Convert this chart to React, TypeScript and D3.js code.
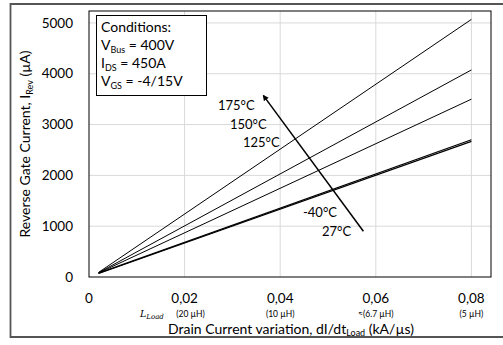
import React from 'react';
import * as d3 from 'd3';

// data
const xTicks = [0, 0.02, 0.04, 0.06, 0.08];
const xTickLabels = ['0', '0,02', '0,04', '0,06', '0,08'];
const inductLabels = ['', '(20 µH)', '(10 µH)', '≈(6.7 µH)', '(5 µH)'];
const yTicks = [0, 1000, 2000, 3000, 4000, 5000];

const xPoints = [0.002, 0.08];
const series = [
  { temp: '175°C', values: [90, 5070], width: 1 },
  { temp: '150°C', values: [85, 4075], width: 1 },
  { temp: '125°C', values: [80, 3500], width: 1 },
  { temp: '27°C', values: [75, 2700], width: 1.2 },
  { temp: '-40°C', values: [70, 2670], width: 1.2 },
];

// arrow from the low temperatures towards the high ones
const arrowFrom = { x: 0.0574, y: 900 };
const arrowTo = { x: 0.0365, y: 3570 };

const W = 503;
const H = 345;
const margin = { left: 89, top: 11, right: 12, bottom: 68 };
const font = 'Lato, "Open Sans", sans-serif';

const App = () => {
  const x = d3.scaleLinear().domain([0, 0.0841]).range([margin.left, W - margin.right]);
  const y = d3.scaleLinear().domain([0, 5235]).range([H - margin.bottom, margin.top]);

  const line = d3
    .line<number>()
    .x((_, i) => x(xPoints[i]))
    .y((d) => y(d));

  const x0 = x.range()[0];
  const x1 = x.range()[1];
  const y0 = y.range()[0];
  const y1 = y.range()[1];

  return (
    <svg width={W} height={H} style={{ position: 'absolute', left: 0, top: 0 }} fontFamily={font}>
      <defs>
        <marker id="head" viewBox="0 0 10 10" refX="8" refY="5" markerWidth="4" markerHeight="4" orient="auto">
          <path d="M0,0 L10,5 L0,10 z" fill="#000" />
        </marker>
      </defs>
      <rect x={0} y={0} width={W} height={H} fill="#fff" />
      {/* outer frame */}
      <path d={`M${W + 2},4 H10.5 V337 H${W + 2}`} fill="none" stroke="#555" strokeWidth={1.8} />

      {/* grid */}
      {xTicks.slice(1).map((t) => (
        <line key={'gx' + t} x1={x(t)} x2={x(t)} y1={y1} y2={y0} stroke="#d9d9d9" strokeWidth={1} />
      ))}
      {yTicks.slice(1).map((t) => (
        <line key={'gy' + t} x1={x0} x2={x1} y1={y(t)} y2={y(t)} stroke="#d9d9d9" strokeWidth={1} />
      ))}

      {/* series */}
      {series.map((s) => (
        <path key={s.temp} d={line(s.values) || ''} fill="none" stroke="#000" strokeWidth={s.width} />
      ))}

      <rect x={x0} y={y1} width={x1 - x0} height={y0 - y1} fill="none" stroke="#000" strokeWidth={1} />

      {/* arrow */}
      <line
        x1={x(arrowFrom.x)}
        y1={y(arrowFrom.y)}
        x2={x(arrowTo.x)}
        y2={y(arrowTo.y)}
        stroke="#000"
        strokeWidth={1.5}
        markerEnd="url(#head)"
      />

      {/* temperature labels */}
      <g fontSize={13} fill="#000">
        <text x={218} y={110}>175°C</text>
        <text x={230} y={129}>150°C</text>
        <text x={243} y={147}>125°C</text>
        <text x={303} y={217}>-40°C</text>
        <text x={322} y={236}>27°C</text>
      </g>

      {/* conditions box */}
      <rect x={96.5} y={15.5} width={110} height={80} fill="#fff" stroke="#000" strokeWidth={1} />
      <g fontSize={14} fill="#000">
        <text x={101} y={32}>Conditions:</text>
        <text x={101} y={50}>
          V<tspan fontSize={9} dy={3}>Bus</tspan>
          <tspan dy={-3}> = 400V</tspan>
        </text>
        <text x={101} y={68}>
          I<tspan fontSize={9} dy={3}>DS</tspan>
          <tspan dy={-3}> = 450A</tspan>
        </text>
        <text x={101} y={86}>
          V<tspan fontSize={9} dy={3}>GS</tspan>
          <tspan dy={-3}> = -4/15V</tspan>
        </text>
      </g>

      {/* y ticks */}
      {yTicks.map((t) => (
        <text key={'ty' + t} x={73} y={y(t)} dy="0.35em" textAnchor="end" fontSize={13.5}>
          {t}
        </text>
      ))}

      {/* x ticks */}
      {xTicks.map((t, i) => (
        <g key={'tx' + t}>
          <text x={x(t)} y={298} dy="0.35em" textAnchor="middle" fontSize={13.5}>
            {xTickLabels[i]}
          </text>
          {inductLabels[i] && (
            <text x={x(t) + (i === 1 ? 6 : 0)} y={314} dy="0.35em" textAnchor="middle" fontSize={8.5}>
              {inductLabels[i]}
            </text>
          )}
        </g>
      ))}
      <text x={140} y={317} fontSize={9.5} fontStyle="italic" fontFamily="'DejaVu Serif', serif">
        L<tspan fontSize={7} dy={2}>Load</tspan>
      </text>

      {/* axis titles */}
      <text x={291} y={333.5} textAnchor="middle" fontSize={14}>
        Drain Current variation, dI/dt<tspan fontSize={9} dy={2.5}>Load</tspan>
        <tspan dy={-2.5}> (kA/µs)</tspan>
      </text>
      <text transform={`translate(30,${(y0 + y1) / 2}) rotate(-90)`} textAnchor="middle" fontSize={14}>
        Reverse Gate Current, I<tspan fontSize={9} dy={3}>Rev</tspan>
        <tspan dy={-3}> (µA)</tspan>
      </text>
    </svg>
  );
};

export default App;
